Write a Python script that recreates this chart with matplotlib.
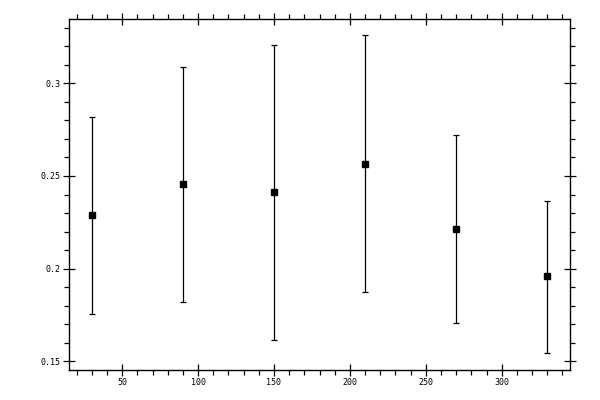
import numpy as np
import matplotlib
matplotlib.use('Agg')
import matplotlib.pyplot as plt
from matplotlib.ticker import MultipleLocator

x = [30, 90, 150, 210, 270, 330]
y = [0.2288, 0.2455, 0.2412, 0.2563, 0.2212, 0.1959]
upper = [0.2820, 0.3086, 0.3205, 0.3259, 0.2720, 0.2365]
lower = [0.1754, 0.1819, 0.1614, 0.1874, 0.1705, 0.1544]

y = np.array(y)
yerr = [y - np.array(lower), np.array(upper) - y]

fig = plt.figure(figsize=(6, 4), dpi=100)
ax = fig.add_axes([0.115, 0.075, 0.835, 0.8775])

ax.errorbar(x, y, yerr=yerr, fmt='s', color='black', markersize=5,
            ecolor='black', elinewidth=0.9, capsize=2.5, capthick=0.9)

ax.set_xlim(15, 345)
ax.set_ylim(0.1453, 0.3347)

ax.xaxis.set_major_locator(MultipleLocator(50))
ax.xaxis.set_minor_locator(MultipleLocator(10))
ax.yaxis.set_major_locator(MultipleLocator(0.05))
ax.yaxis.set_minor_locator(MultipleLocator(0.01))

ax.set_xticks([50, 100, 150, 200, 250, 300])
ax.set_xticklabels(['50', '100', '150', '200', '250', '300'])
ax.set_yticks([0.15, 0.2, 0.25, 0.3])
ax.set_yticklabels(['0.15', '0.2', '0.25', '0.3'])

for lab in ax.get_xticklabels() + ax.get_yticklabels():
    lab.set_family('DejaVu Sans Mono')
    lab.set_fontsize(6)

ax.tick_params(which='major', direction='inout', length=8, width=0.9,
               top=True, right=True, pad=2)
ax.tick_params(which='minor', direction='out', length=3.5, width=0.9,
               top=True, right=True)
for s in ax.spines.values():
    s.set_linewidth(1.0)

fig.savefig('out.png', dpi=100)
